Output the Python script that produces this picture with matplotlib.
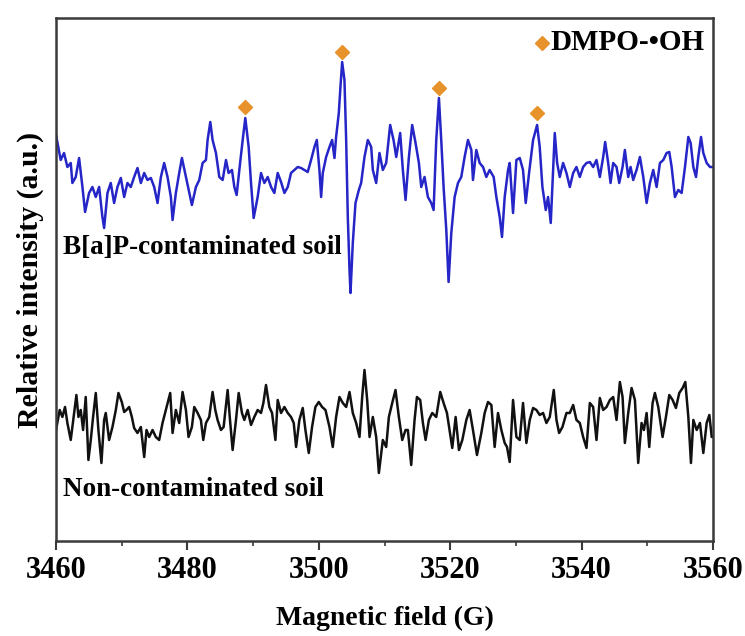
import matplotlib
matplotlib.use("Agg")
import matplotlib.pyplot as plt
from matplotlib.ticker import MultipleLocator

# ---- data (field in G, intensity in arbitrary units) ----
bap_field = [3460.00, 3460.71, 3461.22, 3461.73, 3462.24, 3462.49, 3463.00, 3463.51, 3464.02, 3464.42,
             3465.03, 3465.54, 3466.05, 3466.56, 3467.06, 3467.32, 3467.83, 3468.33, 3468.84, 3469.35,
             3469.86, 3470.37, 3470.87, 3471.38, 3471.89, 3472.40, 3472.91, 3473.42, 3473.92, 3474.43,
             3474.94, 3475.45, 3475.96, 3476.46, 3476.97, 3477.48, 3477.74, 3478.24, 3478.75, 3479.16,
             3479.77, 3480.28, 3480.68, 3481.29, 3481.80, 3482.31, 3482.82, 3483.07, 3483.48, 3483.83,
             3484.34, 3484.85, 3485.36, 3485.87, 3486.27, 3486.78, 3487.14, 3487.49, 3487.90, 3488.41,
             3488.81, 3489.32, 3489.68, 3490.08, 3490.69, 3491.20, 3491.71, 3492.22, 3492.73, 3493.23,
             3493.74, 3494.25, 3494.76, 3495.27, 3495.77, 3496.28, 3496.79, 3497.30, 3497.81, 3498.31,
             3498.82, 3499.33, 3499.69, 3500.09, 3500.35, 3500.60, 3501.11, 3501.62, 3502.02, 3502.38,
             3502.63, 3503.04, 3503.29, 3503.55, 3503.90, 3504.16, 3504.41, 3504.67, 3504.82, 3505.17,
             3505.58, 3506.09, 3506.44, 3506.95, 3507.46, 3507.97, 3508.22, 3508.73, 3509.23, 3509.74,
             3510.25, 3510.86, 3511.37, 3511.78, 3512.38, 3512.79, 3513.20, 3513.71, 3514.21, 3514.72,
             3515.23, 3515.59, 3516.09, 3516.60, 3517.11, 3517.47, 3517.87, 3518.28, 3518.63, 3518.99,
             3519.40, 3519.75, 3520.16, 3520.67, 3521.18, 3521.68, 3522.19, 3522.70, 3523.21, 3523.46,
             3523.97, 3524.48, 3524.99, 3525.49, 3526.00, 3526.61, 3527.02, 3527.53, 3527.88, 3528.29,
             3528.80, 3529.05, 3529.56, 3530.07, 3530.58, 3531.08, 3531.49, 3532.00, 3532.61, 3533.22,
             3533.62, 3534.03, 3534.54, 3534.89, 3535.30, 3535.66, 3535.91, 3536.27, 3536.67, 3537.18,
             3537.69, 3538.20, 3538.71, 3539.21, 3539.72, 3540.23, 3540.74, 3541.25, 3541.75, 3542.26,
             3542.77, 3543.28, 3543.58, 3544.04, 3544.40, 3544.80, 3545.31, 3545.72, 3546.23, 3546.58,
             3547.09, 3547.45, 3547.85, 3548.36, 3548.87, 3549.38, 3549.89, 3550.39, 3550.90, 3551.41,
             3551.92, 3552.43, 3552.93, 3553.34, 3553.70, 3554.20, 3554.71, 3555.22, 3555.73, 3556.24,
             3556.59, 3557.00, 3557.41, 3557.76, 3558.17, 3558.52, 3559.03, 3559.54, 3560.00]
bap_signal = [406, 381, 388, 374, 378, 358, 364, 383, 354, 329,
              348, 354, 344, 354, 324, 313, 348, 358, 338, 354,
              363, 344, 358, 354, 364, 373, 358, 368, 361, 363,
              354, 338, 364, 378, 364, 344, 321, 348, 368, 383,
              364, 348, 336, 354, 361, 378, 381, 401, 419, 401,
              388, 364, 361, 381, 368, 371, 354, 346, 371, 401,
              423, 394, 358, 323, 344, 368, 358, 364, 354, 348,
              368, 359, 348, 354, 368, 371, 374, 373, 371, 369,
              381, 394, 401, 371, 344, 368, 384, 394, 401, 383,
              404, 428, 454, 479, 461, 401, 324, 271, 248, 298,
              338, 351, 358, 384, 401, 394, 371, 358, 388, 371,
              378, 416, 401, 384, 408, 371, 341, 384, 416, 398,
              378, 354, 364, 344, 338, 331, 401, 443, 401, 354,
              311, 259, 308, 344, 358, 364, 384, 401, 391, 361,
              391, 378, 374, 364, 371, 364, 344, 324, 304, 344,
              371, 378, 328, 381, 383, 371, 338, 368, 401, 416,
              394, 354, 331, 344, 318, 371, 408, 378, 364, 378,
              368, 354, 368, 374, 364, 374, 378, 379, 374, 381,
              364, 384, 399, 378, 358, 378, 374, 358, 374, 391,
              364, 374, 361, 371, 384, 364, 338, 358, 371, 354,
              378, 381, 388, 389, 374, 344, 351, 348, 374, 404,
              398, 374, 364, 384, 404, 388, 378, 374, 374]

clean_field = [3460.00, 3460.56, 3460.97, 3461.37, 3461.73, 3462.24, 3462.75, 3463.10, 3463.41, 3463.76,
               3464.12, 3464.52, 3464.93, 3465.29, 3465.64, 3466.05, 3466.45, 3466.91, 3467.32, 3467.57,
               3468.08, 3468.59, 3469.10, 3469.50, 3470.01, 3470.37, 3470.72, 3471.13, 3471.54, 3471.89,
               3472.40, 3472.91, 3473.42, 3473.77, 3474.18, 3474.69, 3475.19, 3475.70, 3476.21, 3476.72,
               3477.38, 3477.74, 3478.24, 3478.75, 3479.26, 3479.77, 3480.17, 3480.68, 3481.04, 3481.55,
               3482.05, 3482.41, 3482.82, 3483.32, 3483.83, 3484.24, 3484.59, 3485.10, 3485.51, 3486.12,
               3486.48, 3486.88, 3487.39, 3487.80, 3488.30, 3488.66, 3489.17, 3489.68, 3490.18, 3490.69,
               3491.20, 3491.56, 3491.96, 3492.47, 3492.88, 3493.39, 3493.74, 3494.25, 3494.76, 3495.27,
               3495.77, 3496.18, 3496.54, 3497.04, 3497.55, 3497.96, 3498.47, 3498.97, 3499.48, 3499.99,
               3500.50, 3501.01, 3501.62, 3502.12, 3502.63, 3503.14, 3503.65, 3504.16, 3504.67, 3505.17,
               3505.68, 3506.19, 3506.60, 3506.95, 3507.36, 3507.72, 3508.22, 3508.73, 3509.14, 3509.74,
               3510.25, 3510.66, 3511.17, 3511.67, 3512.18, 3512.69, 3513.20, 3513.55, 3514.06, 3514.57,
               3514.93, 3515.43, 3515.84, 3516.25, 3516.75, 3517.26, 3517.87, 3518.48, 3518.99, 3519.50,
               3519.90, 3520.31, 3520.82, 3521.33, 3521.84, 3522.45, 3522.95, 3523.46, 3524.07, 3524.73,
               3525.24, 3525.75, 3526.26, 3526.76, 3527.27, 3527.78, 3528.29, 3528.64, 3529.05, 3529.31,
               3529.56, 3530.07, 3530.58, 3531.08, 3531.59, 3532.10, 3532.61, 3533.12, 3533.62, 3534.13,
               3534.64, 3535.15, 3535.76, 3536.17, 3536.57, 3537.08, 3537.69, 3538.20, 3538.71, 3539.21,
               3539.72, 3540.23, 3540.74, 3541.25, 3541.75, 3542.26, 3542.77, 3543.28, 3543.79, 3544.30,
               3544.80, 3545.31, 3545.82, 3546.23, 3546.58, 3547.09, 3547.60, 3548.11, 3548.61, 3549.12,
               3549.48, 3549.89, 3550.29, 3550.80, 3551.15, 3551.66, 3552.32, 3552.83, 3553.34, 3553.85,
               3554.35, 3554.86, 3555.37, 3555.78, 3556.24, 3556.64, 3557.00, 3557.51, 3558.01, 3558.52,
               3559.03, 3559.44, 3559.80, 3560.00]
clean_signal = [111, 131, 124, 134, 118, 101, 128, 146, 124, 131,
                111, 144, 81, 101, 124, 148, 111, 78, 121, 128,
                101, 114, 131, 148, 139, 129, 131, 134, 124, 113,
                108, 114, 84, 111, 104, 111, 104, 101, 118, 131,
                148, 108, 131, 118, 149, 131, 104, 114, 134, 128,
                121, 101, 118, 124, 149, 131, 121, 111, 114, 151,
                121, 91, 121, 148, 128, 121, 131, 116, 124, 131,
                128, 138, 156, 134, 128, 101, 141, 128, 134, 128,
                124, 118, 94, 121, 133, 111, 88, 114, 134, 139,
                134, 131, 114, 94, 124, 144, 138, 134, 149, 128,
                118, 104, 144, 171, 141, 104, 124, 104, 68, 101,
                94, 124, 138, 151, 124, 101, 111, 111, 76, 121,
                144, 141, 118, 101, 121, 128, 124, 149, 138, 128,
                111, 93, 124, 91, 101, 121, 131, 111, 86, 108,
                128, 139, 136, 94, 128, 111, 98, 94, 79, 111,
                141, 104, 101, 138, 98, 121, 133, 131, 126, 128,
                118, 124, 151, 121, 108, 114, 128, 128, 136, 121,
                118, 104, 93, 138, 134, 101, 143, 131, 134, 141,
                144, 121, 159, 144, 98, 128, 153, 141, 78, 118,
                111, 128, 94, 138, 148, 134, 104, 124, 146, 141,
                133, 148, 153, 159, 124, 78, 121, 111, 118, 88,
                118, 126, 104, 104]

peak_field = [3488.81, 3503.55, 3518.28, 3533.22]
peak_mark = [434, 489, 453, 428]

label_bap = "B[a]P-contaminated soil"
label_clean = "Non-contaminated soil"
legend_label = "DMPO-\u2022OH"
x_ticks = [3460, 3480, 3500, 3520, 3540, 3560]

# ---- figure ----
plt.rcParams['font.family'] = ['Liberation Serif', 'DejaVu Serif']
plt.rcParams['font.weight'] = 'bold'

fig = plt.figure(figsize=(7.45, 6.36), dpi=100)
ax = fig.add_axes([0.0752, 0.1494, 0.8819, 0.8223])

blue = '#2525c8'
orange = '#e8922c'
spine_c = '#3a3a3a'

ax.plot(bap_field, bap_signal, color=blue, lw=1.8)
ax.plot(clean_field, clean_signal, color='#111111', lw=1.8)
ax.plot(peak_field, peak_mark, linestyle='none', marker='D', ms=7,
        color=orange, mec=orange)

# legend entry
ax.plot([3533.9], [498], linestyle='none', marker='D', ms=7, color=orange, mec=orange)
ax.text(3535.3, 498, legend_label, fontsize=21, fontweight='bold', va='center', ha='left')

ax.text(3461.1, 293, label_bap, fontsize=19.5, fontweight='bold', va='center', ha='left')
ax.text(3461.0, 51, label_clean, fontsize=19.5, fontweight='bold', va='center', ha='left')

ax.set_xlim(3460, 3560)
ax.set_ylim(0, 523)
ax.set_xticks(x_ticks)
ax.xaxis.set_minor_locator(MultipleLocator(10))
ax.set_yticks([])
ax.tick_params(axis='x', which='major', direction='out', length=6.5, width=1.5,
               labelsize=22, pad=4, colors=spine_c, labelcolor='black')
ax.tick_params(axis='x', which='minor', direction='out', length=3.3, width=1.2, colors=spine_c)
for lab in ax.get_xticklabels():
    lab.set_fontweight('bold')

for s in ax.spines.values():
    s.set_linewidth(1.8)
    s.set_color(spine_c)

ax.set_xlabel("Magnetic field (G)", fontsize=20, fontweight='bold', labelpad=15)
ax.set_ylabel("Relative intensity (a.u.)", fontsize=21.5, fontweight='bold', labelpad=9)

fig.savefig("out.png", dpi=100)
